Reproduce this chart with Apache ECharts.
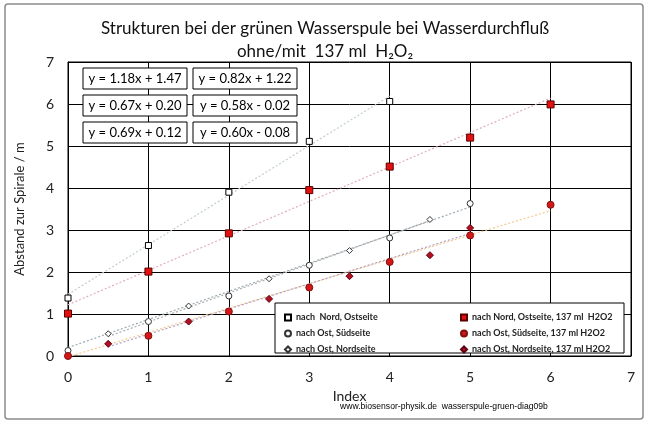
<!DOCTYPE html>
<html><head><meta charset="utf-8">
<script src="https://cdn.jsdelivr.net/npm/echarts@6/dist/echarts.min.js"></script>
<style>html,body{margin:0;padding:0;background:#fff}#c{width:650px;height:430px}</style>
</head><body><div id="c"></div>
<script>
// ---- data ----
const titleText = 'Strukturen bei der grünen Wasserspule bei Wasserdurchfluß';
const subTitleText = 'ohne/mit  137 ml  H₂O₂';
const xTicks = [0, 1, 2, 3, 4, 5, 6, 7];
const yTicks = [0, 1, 2, 3, 4, 5, 6, 7];

const seriesNames = [
  'nach  Nord, Ostseite',
  'nach Ost, Südseite',
  'nach Ost, Nordseite',
  'nach Nord, Ostseite, 137 ml  H2O2',
  'nach Ost, Südseite, 137 ml H2O2',
  'nach Ost, Nordseite, 137 ml H2O2'
];

const xNordOst = [0, 1, 2, 3, 4];
const nordOst = [1.38, 2.63, 3.90, 5.11, 6.06];
const xOstSued = [0, 1, 2, 3, 4, 5];
const ostSued = [0.13, 0.82, 1.43, 2.16, 2.81, 3.63];
const xOstNord = [0.5, 1.5, 2.5, 3.5, 4.5];
const ostNord = [0.53, 1.19, 1.84, 2.51, 3.25];
const xNordOstH = [0, 1, 2, 3, 4, 5, 6];
const nordOstH = [1.01, 2.01, 2.92, 3.95, 4.51, 5.20, 5.99];
const xOstSuedH = [0, 1, 2, 3, 4, 5, 6];
const ostSuedH = [0.00, 0.48, 1.06, 1.63, 2.24, 2.87, 3.60];
const xOstNordH = [0.5, 1.5, 2.5, 3.5, 4.5, 5];
const ostNordH = [0.29, 0.82, 1.36, 1.90, 2.40, 3.05];

// linear trend lines as shown in the equation boxes (same order as seriesNames)
const trendSlope = [1.18, 0.67, 0.69, 0.82, 0.58, 0.60];
const trendIntercept = [1.47, 0.20, 0.12, 1.22, -0.02, -0.08];
const trendFrom = [0, 0, 0.5, 0, 0, 0.5];
const trendTo = [4, 5, 4.5, 6, 6, 5];
const equations = [
  'y = 1.18x + 1.47', 'y = 0.82x + 1.22',
  'y = 0.67x + 0.20', 'y = 0.58x - 0.02',
  'y = 0.69x + 0.12', 'y = 0.60x - 0.08'
];

// ---- build ----
const zip = (xs, ys) => xs.map((x, i) => [x, ys[i]]);
const pointSets = [
  zip(xNordOst, nordOst), zip(xOstSued, ostSued), zip(xOstNord, ostNord),
  zip(xNordOstH, nordOstH), zip(xOstSuedH, ostSuedH), zip(xOstNordH, ostNordH)
];
const symbols = [
  {symbol: 'rect', size: 6, fill: '#ffffff', border: '#000000'},
  {symbol: 'circle', size: 6, fill: '#ffffff', border: '#333333'},
  {symbol: 'diamond', size: 6, fill: '#ffffff', border: '#333333'},
  {symbol: 'rect', size: 7, fill: '#e41010', border: '#5a0000'},
  {symbol: 'circle', size: 7, fill: '#d41818', border: '#801010'},
  {symbol: 'diamond', size: 7, fill: '#b01020', border: '#600010'}
];
const trendColors = ['#c2d0c2', '#98aab2', '#acacac', '#e0afbd', '#f4cb90', '#b2a0c4'];

const series = [];
pointSets.forEach((pts, i) => {
  series.push({
    name: 'trend' + i, type: 'line', silent: true, showSymbol: false, z: 2,
    data: [
      [trendFrom[i], trendSlope[i] * trendFrom[i] + trendIntercept[i]],
      [trendTo[i], trendSlope[i] * trendTo[i] + trendIntercept[i]]
    ],
    lineStyle: {color: trendColors[i], width: 1.2, type: [2, 2]},
    itemStyle: {color: trendColors[i]}
  });
});
pointSets.forEach((pts, i) => {
  const s = symbols[i];
  series.push({
    name: seriesNames[i], type: 'scatter', z: 4,
    symbol: s.symbol, symbolSize: s.size, data: pts,
    itemStyle: {color: s.fill, borderColor: s.border, borderWidth: 1, opacity: 1}
  });
});

const boxX = [83, 193];
const boxY = [68, 95, 122];
const graphics = [
  {type: 'rect', z: 100, shape: {x: 5, y: 4, width: 638, height: 415, r: 3},
   style: {fill: 'none', stroke: '#8c8c8c', lineWidth: 1.5}},
  {type: 'rect', z: 10, shape: {x: 275, y: 303, width: 349, height: 50},
   style: {fill: '#ffffff', stroke: '#000000', lineWidth: 1}},
  {type: 'text', z: 10, x: 340, y: 407,
   style: {text: 'www.biosensor-physik.de  wasserspule-gruen-diag09b', fill: '#000',
           font: '8.6px "Liberation Sans", Arial, sans-serif', verticalAlign: 'middle'}}
];
equations.forEach((eq, k) => {
  const col = k % 2, row = Math.floor(k / 2);
  graphics.push({type: 'rect', z: 10,
    shape: {x: boxX[col], y: boxY[row], width: 104, height: 21},
    style: {fill: '#ffffff', stroke: '#000000', lineWidth: 1}});
  graphics.push({type: 'text', z: 11, x: boxX[col] + 52, y: boxY[row] + 11,
    style: {text: eq, fill: '#000', font: '13px Lato, "Noto Sans", sans-serif',
            align: 'center', verticalAlign: 'middle'}});
});

const legendText = {fontFamily: 'Lato, "Noto Sans", sans-serif', fontSize: 9, fontWeight: 'bold', color: '#222', lineHeight: 11};
const option = {
  animation: false,
  backgroundColor: '#ffffff',
  title: {
    text: titleText, subtext: subTitleText, left: 'center', top: 15, itemGap: 6,
    textStyle: {fontFamily: 'Lato, "Noto Sans", sans-serif', fontSize: 17, fontWeight: 'normal', color: '#111'},
    subtextStyle: {fontFamily: 'Lato, "Noto Sans", sans-serif', fontSize: 17, color: '#111'}
  },
  grid: {left: 68, right: 19, top: 62, bottom: 74, show: true, borderColor: '#000', borderWidth: 1, backgroundColor: 'transparent'},
  xAxis: {
    type: 'value', min: xTicks[0], max: xTicks[xTicks.length - 1], interval: 1,
    name: 'Index', nameLocation: 'middle', nameGap: 33,
    nameTextStyle: {fontFamily: 'Lato, "Noto Sans", sans-serif', fontSize: 14, color: '#222'},
    axisLine: {lineStyle: {color: '#000', width: 1}},
    axisTick: {show: false},
    axisLabel: {fontFamily: 'Lato, "Noto Sans", sans-serif', fontSize: 14, color: '#222', margin: 14},
    splitLine: {show: true, lineStyle: {color: '#000', width: 1}}
  },
  yAxis: {
    type: 'value', min: yTicks[0], max: yTicks[yTicks.length - 1], interval: 1,
    name: 'Abstand zur Spirale / m', nameLocation: 'middle', nameGap: 42,
    nameTextStyle: {fontFamily: 'Lato, "Noto Sans", sans-serif', fontSize: 13, color: '#222'},
    axisLine: {show: true, lineStyle: {color: '#000', width: 1}},
    axisTick: {show: false},
    axisLabel: {fontFamily: 'Lato, "Noto Sans", sans-serif', fontSize: 14, color: '#222', margin: 14},
    splitLine: {show: true, lineStyle: {color: '#000', width: 1}}
  },
  legend: [
    {data: seriesNames.slice(0, 3), orient: 'vertical', left: 279, top: 307, itemGap: 5,
     itemWidth: 6, itemHeight: 6, z: 20, textStyle: legendText, selectedMode: false},
    {data: seriesNames.slice(3), orient: 'vertical', left: 455, top: 307, itemGap: 5,
     itemWidth: 6, itemHeight: 6, z: 20, textStyle: legendText, selectedMode: false}
  ],
  graphic: graphics,
  series: series
};
const chart = echarts.init(document.getElementById('c'), null, {renderer: 'canvas'});
chart.setOption(option);
</script>
</body></html>
